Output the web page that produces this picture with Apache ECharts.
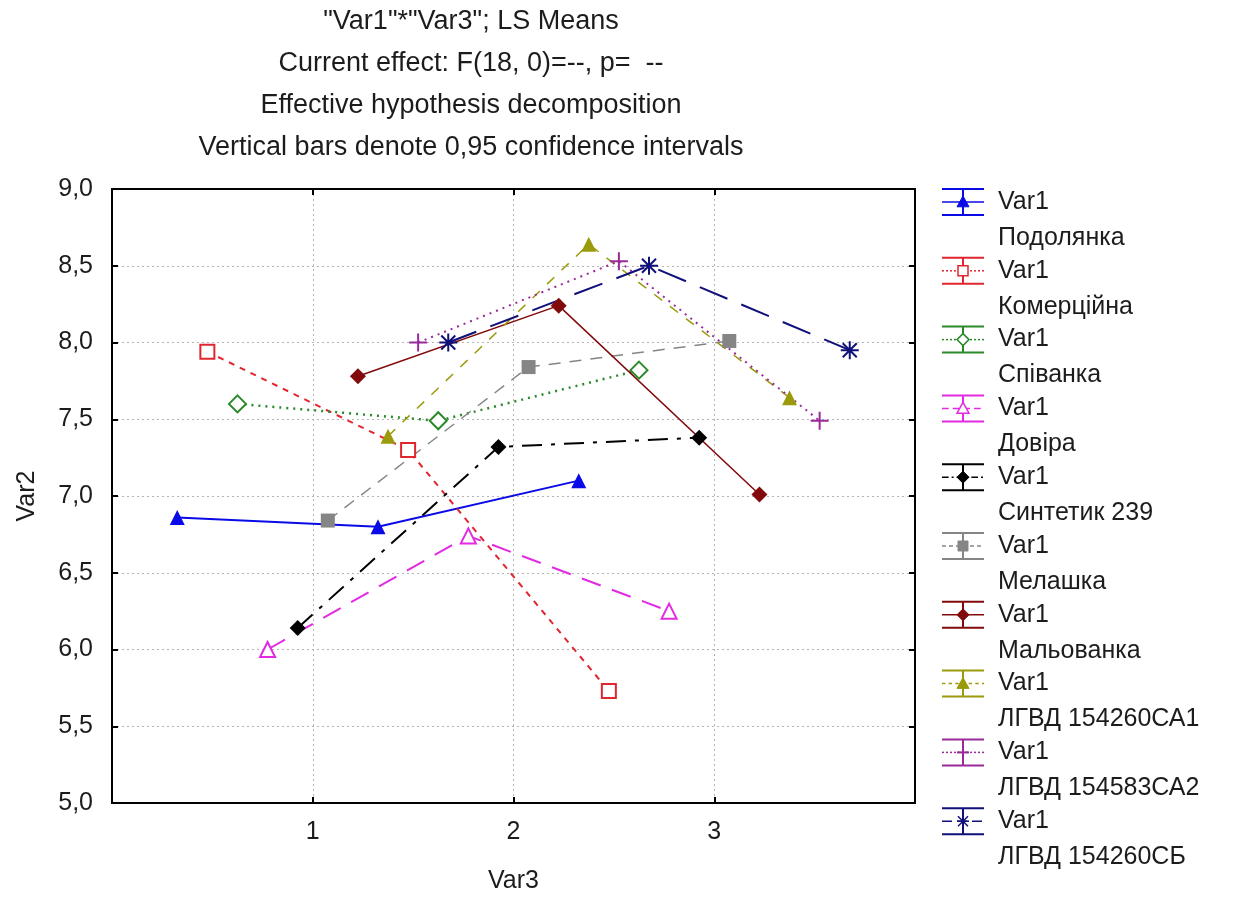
<!DOCTYPE html>
<html>
<head>
<meta charset="utf-8">
<script src="https://cdn.jsdelivr.net/npm/echarts@6/dist/echarts.min.js"></script>
<style>
  html, body { margin: 0; padding: 0; background: #fff; }
  #chart { width: 1237px; height: 899px; }
</style>
</head>
<body>
<div id="chart"></div>
<script>
// Var3 levels
const categories = [1, 2, 3]
const xTickLabels = ['1', '2', '3']

// LS means per variety (Var1)
const podolianka = [6.86, 6.80, 7.10]
const komertsiina = [7.94, 7.30, 5.73]
const spivanka = [7.60, 7.49, 7.82]
const dovira = [6.00, 6.74, 6.25]
const syntetyk239 = [6.14, 7.32, 7.38]
const melashka = [6.84, 7.84, 8.01]
const malovanka = [7.78, 8.24, 7.01]
const lgvdCA1 = [7.39, 8.64, 7.64]
const lgvdCA2 = [8.00, 8.53, 7.49]
const lgvdCB = [8.00, 8.50, 7.95]

const seriesNames = ['Подолянка', 'Комерційна', 'Співанка', 'Довіра', 'Синтетик 239',
    'Мелашка', 'Мальованка', 'ЛГВД 154260СА1', 'ЛГВД 154583СА2', 'ЛГВД 154260СБ']
const seriesValues = [podolianka, komertsiina, spivanka, dovira, syntetyk239,
    melashka, malovanka, lgvdCA1, lgvdCA2, lgvdCB]

const FONT = "'Liberation Sans', Arial, sans-serif"
const TEXT = '#1c1c1c'

const PLUS = 'path://M-1,-9 L1,-9 L1,-1 L9,-1 L9,1 L1,1 L1,9 L-1,9 L-1,1 L-9,1 L-9,-1 L-1,-1 Z'
const STAR = 'path://M-9,-1 L9,-1 L9,1 L-9,1 Z M-1,-9 L1,-9 L1,9 L-1,9 Z ' +
    'M-7.7,-6.3 L-6.3,-7.7 L7.7,6.3 L6.3,7.7 Z M6.3,-7.7 L7.7,-6.3 L-6.3,7.7 L-7.7,6.3 Z'

// style per series: color, dash, width, symbol, open marker
const styles = [
    { color: '#0a0ae6', dash: 'solid', width: 2, symbol: 'triangle', kind: 'tri', open: false, size: 15 },
    { color: '#e0262e', dash: [6, 6], width: 2, symbol: 'rect', kind: 'rect', open: true, size: 14 },
    { color: '#2a8a2a', dash: [2, 5], width: 2.5, symbol: 'diamond', kind: 'dia', open: true, size: 17 },
    { color: '#e22ae2', dash: [20, 12], width: 2, symbol: 'triangle', kind: 'tri', open: true, size: 15 },
    { color: '#000000', dash: [20, 9, 4, 9], width: 2, symbol: 'diamond', kind: 'dia', open: false, size: 16 },
    { color: '#858585', dash: [12, 9], width: 1.5, symbol: 'rect', kind: 'rect', open: false, size: 14 },
    { color: '#820a0a', dash: 'solid', width: 1.5, symbol: 'diamond', kind: 'dia', open: false, size: 16 },
    { color: '#9a9a0a', dash: [10, 10], width: 1.5, symbol: 'triangle', kind: 'tri', open: false, size: 15 },
    { color: '#9a2a9a', dash: [2, 5], width: 2, symbol: PLUS, kind: 'plus', open: false, size: 18 },
    { color: '#10107a', dash: [30, 15], width: 2, symbol: STAR, kind: 'star', open: false, size: 18 }
]

const chart = echarts.init(document.getElementById('chart'), null, { renderer: 'canvas' })

const series = seriesValues.map((vals, i) => {
    const st = styles[i]
    const shift = (i - 4.5) * 0.15
    return {
        name: seriesNames[i],
        type: 'line',
        data: vals.map((v, k) => [categories[k] + shift, v]),
        symbol: st.symbol,
        symbolSize: st.size,
        lineStyle: { color: st.color, width: st.width, type: st.dash },
        itemStyle: st.open
            ? { color: '#ffffff', borderColor: st.color, borderWidth: 2 }
            : { color: st.color, borderWidth: 0 },
        emphasis: { disabled: true },
        z: 3
    }
})

// hand-drawn Statistica style legend: error bar icon + two-line label
function legendMarker(kind, cx, cy, color, open) {
    const s = 6
    const style = open
        ? { fill: '#fff', stroke: color, lineWidth: 1.5 }
        : { fill: color, stroke: color, lineWidth: 1 }
    if (kind === 'tri') return { type: 'polygon', shape: { points: [[cx, cy - s], [cx + s, cy + s * 0.8], [cx - s, cy + s * 0.8]] }, style }
    if (kind === 'rect') return { type: 'rect', shape: { x: cx - 5, y: cy - 5, width: 10, height: 10 }, style }
    if (kind === 'dia') return { type: 'polygon', shape: { points: [[cx, cy - s], [cx + s, cy], [cx, cy + s], [cx - s, cy]] }, style }
    if (kind === 'plus') return { type: 'group', children: [
        { type: 'line', shape: { x1: cx - 6, y1: cy, x2: cx + 6, y2: cy }, style: { stroke: color, lineWidth: 2 } },
        { type: 'line', shape: { x1: cx, y1: cy - 6, x2: cx, y2: cy + 6 }, style: { stroke: color, lineWidth: 2 } }
    ] }
    return { type: 'group', children: [
        { type: 'line', shape: { x1: cx - 6, y1: cy, x2: cx + 6, y2: cy }, style: { stroke: color, lineWidth: 1.5 } },
        { type: 'line', shape: { x1: cx, y1: cy - 6, x2: cx, y2: cy + 6 }, style: { stroke: color, lineWidth: 1.5 } },
        { type: 'line', shape: { x1: cx - 5, y1: cy - 5, x2: cx + 5, y2: cy + 5 }, style: { stroke: color, lineWidth: 1.5 } },
        { type: 'line', shape: { x1: cx + 5, y1: cy - 5, x2: cx - 5, y2: cy + 5 }, style: { stroke: color, lineWidth: 1.5 } }
    ] }
}

const legendItems = []
seriesNames.forEach((name, i) => {
    const st = styles[i]
    const y0 = 202 + i * 68.8
    const x0 = 942, x1 = 984, xc = 963
    const dash = st.dash === 'solid' ? null : st.dash.map(d => Math.max(2, d / 3))
    legendItems.push(
        { type: 'line', shape: { x1: x0, y1: y0 - 13, x2: x1, y2: y0 - 13 }, style: { stroke: st.color, lineWidth: 2 } },
        { type: 'line', shape: { x1: x0, y1: y0 + 13, x2: x1, y2: y0 + 13 }, style: { stroke: st.color, lineWidth: 2 } },
        { type: 'line', shape: { x1: xc, y1: y0 - 13, x2: xc, y2: y0 + 13 }, style: { stroke: st.color, lineWidth: 2 } },
        { type: 'line', shape: { x1: x0, y1: y0, x2: x1, y2: y0 }, style: { stroke: st.color, lineWidth: 1.5, lineDash: dash } },
        legendMarker(st.kind, xc, y0, st.color, st.open),
        { type: 'text', x: 998, y: y0, style: { text: 'Var1', font: '25px ' + FONT, fill: TEXT, verticalAlign: 'middle' } },
        { type: 'text', x: 998, y: y0 + 36, style: { text: name, font: '25px ' + FONT, fill: TEXT, verticalAlign: 'middle' } }
    )
})

const gridLine = { show: true, showMinLine: false, showMaxLine: false,
    lineStyle: { color: '#b4b4b4', type: [2, 3], width: 1 } }
const tick = { show: true, inside: true, length: 6, lineStyle: { color: '#000', width: 2 } }
const frame = { show: true, onZero: false, lineStyle: { color: '#000', width: 2 } }

chart.setOption({
    animation: false,
    backgroundColor: '#ffffff',
    title: {
        text: '"Var1"*"Var3"; LS Means\nCurrent effect: F(18, 0)=--, p=  --\nEffective hypothesis decomposition\nVertical bars denote 0,95 confidence intervals',
        left: 466,
        top: -4,
        textAlign: 'center',
        textStyle: { fontFamily: FONT, fontSize: 27, fontWeight: 'normal', color: TEXT, lineHeight: 42 }
    },
    grid: {
        left: 112, top: 189, right: 322, bottom: 91,
        show: true, borderWidth: 0, backgroundColor: '#fff'
    },
    xAxis: [{
        type: 'value', min: 0, max: 4, interval: 1,
        name: 'Var3', nameLocation: 'middle', nameGap: 66,
        nameTextStyle: { fontFamily: FONT, fontSize: 25, color: TEXT },
        axisLine: frame,
        axisTick: tick,
        splitLine: gridLine,
        axisLabel: {
            fontFamily: FONT, fontSize: 25, color: TEXT, margin: 17,
            formatter: v => (categories.includes(v) ? xTickLabels[categories.indexOf(v)] : '')
        }
    }, {
        type: 'value', min: 0, max: 4, interval: 1, position: 'top',
        axisLine: frame, axisTick: tick, splitLine: { show: false }, axisLabel: { show: false }
    }],
    yAxis: [{
        type: 'value', min: 5, max: 9, interval: 0.5,
        name: 'Var2', nameLocation: 'middle', nameGap: 72,
        nameTextStyle: { fontFamily: FONT, fontSize: 25, color: TEXT },
        axisLine: frame,
        axisTick: tick,
        splitLine: gridLine,
        axisLabel: {
            fontFamily: FONT, fontSize: 25, color: TEXT, margin: 19,
            formatter: v => v.toFixed(1).replace('.', ',')
        }
    }, {
        type: 'value', min: 5, max: 9, interval: 0.5, position: 'right',
        axisLine: frame, axisTick: tick, splitLine: { show: false }, axisLabel: { show: false }
    }],
    graphic: legendItems,
    series: series
})
</script>
</body>
</html>
